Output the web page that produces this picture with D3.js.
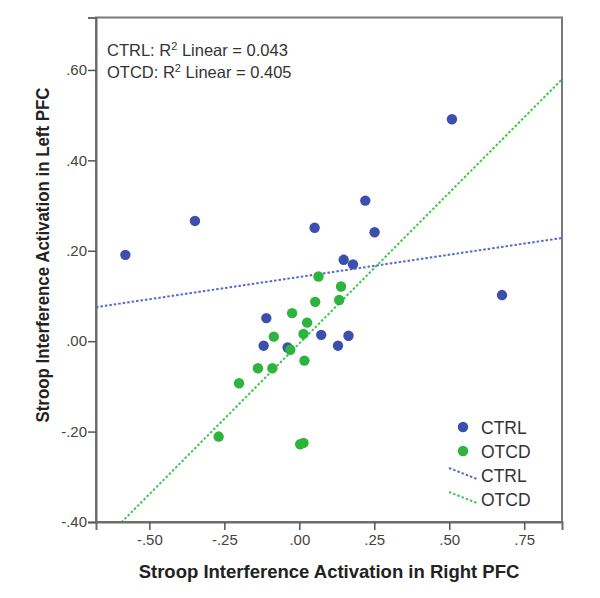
<!DOCTYPE html>
<html>
<head>
<meta charset="utf-8">
<script src="https://cdn.jsdelivr.net/npm/d3@7"></script>
<style>
  body { margin: 0; background: #fff; }
  text { font-family: "Liberation Sans", Arial, sans-serif; }
</style>
</head>
<body>
<div id="chart"></div>
<script>
// values
var ctrlX = [-0.58, -0.348, 0.051, 0.509, 0.676, 0.22, 0.251, 0.148, 0.179, -0.11, -0.119, -0.039, 0.073, 0.129, 0.164];
var ctrlY = [0.191, 0.266, 0.251, 0.491, 0.102, 0.311, 0.241, 0.180, 0.170, 0.051, -0.010, -0.014, 0.014, -0.010, 0.012];
var otcdX = [0.064, 0.139, 0.133, 0.053, -0.024, 0.026, 0.014, -0.085, -0.03, 0.017, -0.138, -0.09, -0.201, -0.269, 0.003, 0.014];
var otcdY = [0.143, 0.121, 0.091, 0.087, 0.062, 0.041, 0.016, 0.010, -0.019, -0.043, -0.060, -0.060, -0.093, -0.211, -0.228, -0.225];
// fit lines: [intercept, slope]
var ctrlFit = [0.142, 0.0985];
var otcdFit = [-0.005, 0.667];
var xTicks = [-0.5, -0.25, 0, 0.25, 0.5, 0.75];
var yTicks = [-0.4, -0.2, 0, 0.2, 0.4, 0.6];
var rSquared = [["CTRL", "0.043"], ["OTCD", "0.405"]];

function drawChart() {
    var W = 600, H = 598;
    var plotL = 96, plotR = 562, plotT = 17.5, plotB = 522;

    var svg = d3.select("#chart").append("svg")
        .attr("width", W)
        .attr("height", H);

    var x = d3.scaleLinear().domain([-0.678, 0.876]).range([plotL, plotR]);
    var y = d3.scaleLinear().domain([-0.4, 0.716]).range([plotB, plotT]);

    var fmt = function(d) {
        return d3.format(".2f")(Math.abs(d)).replace("0.", d < 0 ? "-." : ".");
    };

    var blue = "#3a4fae", green = "#2db43c";
    var blueLine = "#5468cf", greenLine = "#40c64c";

    svg.append("clipPath").attr("id", "plot")
        .append("rect")
        .attr("x", plotL).attr("y", plotT)
        .attr("width", plotR - plotL).attr("height", plotB - plotT);

    // fit lines
    var fits = [[ctrlFit, blueLine], [otcdFit, greenLine]];
    fits.forEach(function(f) {
        var dom = x.domain();
        svg.append("line")
            .attr("clip-path", "url(#plot)")
            .attr("x1", x(dom[0])).attr("y1", y(f[0][0] + f[0][1] * dom[0]))
            .attr("x2", x(dom[1])).attr("y2", y(f[0][0] + f[0][1] * dom[1]))
            .attr("stroke", f[1])
            .attr("stroke-width", 2)
            .attr("stroke-dasharray", "2.5,2");
    });

    // points
    svg.append("g").selectAll("circle")
        .data(d3.range(ctrlX.length))
        .enter().append("circle")
        .attr("cx", function(i) { return x(ctrlX[i]); })
        .attr("cy", function(i) { return y(ctrlY[i]); })
        .attr("r", 5.2)
        .attr("fill", blue);

    svg.append("g").selectAll("circle")
        .data(d3.range(otcdX.length))
        .enter().append("circle")
        .attr("cx", function(i) { return x(otcdX[i]); })
        .attr("cy", function(i) { return y(otcdY[i]); })
        .attr("r", 5.2)
        .attr("fill", green);

    // frame
    svg.append("rect")
        .attr("x", plotL).attr("y", plotT)
        .attr("width", plotR - plotL).attr("height", plotB - plotT)
        .attr("fill", "none")
        .attr("stroke", "#7a7a7a")
        .attr("stroke-width", 2);

    // axes
    var xAxis = d3.axisBottom(x).tickValues(xTicks).tickFormat(fmt).tickSize(8).tickPadding(4);
    var yAxis = d3.axisLeft(y).tickValues(yTicks).tickFormat(fmt).tickSize(8).tickPadding(1);

    var gx = svg.append("g")
        .attr("transform", "translate(0," + plotB + ")")
        .call(xAxis);
    var gy = svg.append("g")
        .attr("transform", "translate(" + plotL + ",0)")
        .call(yAxis);

    [gx, gy].forEach(function(g) {
        g.select(".domain").attr("stroke", "#6a6a6a").attr("stroke-width", 2);
        g.selectAll(".tick line").attr("stroke", "#555").attr("stroke-width", 1.5);
        g.selectAll(".tick text")
            .attr("fill", "#444")
            .style("font-family", "'Liberation Sans', Arial, sans-serif")
            .style("font-size", "15px");
    });

    // axis titles
    svg.append("text")
        .attr("x", 329).attr("y", 578)
        .attr("text-anchor", "middle")
        .style("font-size", "18.5px")
        .style("font-weight", "bold")
        .attr("fill", "#222")
        .text("Stroop Interference Activation in Right PFC");

    svg.append("text")
        .attr("transform", "translate(49,255) rotate(-90)")
        .attr("text-anchor", "middle")
        .attr("textLength", 335)
        .attr("lengthAdjust", "spacingAndGlyphs")
        .style("font-size", "18.5px")
        .style("font-weight", "bold")
        .attr("fill", "#222")
        .text("Stroop Interference Activation in Left PFC");

    // R squared notes
    rSquared.forEach(function(r, i) {
        var t = svg.append("text")
            .attr("x", 107).attr("y", 56 + i * 22)
            .style("font-size", "16.5px")
            .attr("fill", "#333");
        t.append("tspan").text(r[0] + ": R");
        t.append("tspan").attr("dy", -6).style("font-size", "11px").text("2");
        t.append("tspan").attr("dy", 6).text(" Linear = " + r[1]);
    });

    // legend
    var legend = svg.append("g");
    var legRows = [
        {label: "CTRL", kind: "dot", color: blue},
        {label: "OTCD", kind: "dot", color: green},
        {label: "CTRL", kind: "line", color: blueLine},
        {label: "OTCD", kind: "line", color: greenLine}
    ];
    legRows.forEach(function(r, i) {
        var cy = 427 + i * 24;
        if (r.kind === "dot") {
            legend.append("circle")
                .attr("cx", 463).attr("cy", cy)
                .attr("r", 5.2)
                .attr("fill", r.color);
        } else {
            legend.append("line")
                .attr("x1", 449).attr("y1", cy - 7)
                .attr("x2", 477).attr("y2", cy + 4)
                .attr("stroke", r.color)
                .attr("stroke-width", 2)
                .attr("stroke-dasharray", "2.5,2");
        }
        legend.append("text")
            .attr("x", 481).attr("y", cy + 6.5)
            .style("font-size", "17.5px")
            .attr("fill", "#333")
            .text(r.label);
    });
}
drawChart();
</script>
</body>
</html>
